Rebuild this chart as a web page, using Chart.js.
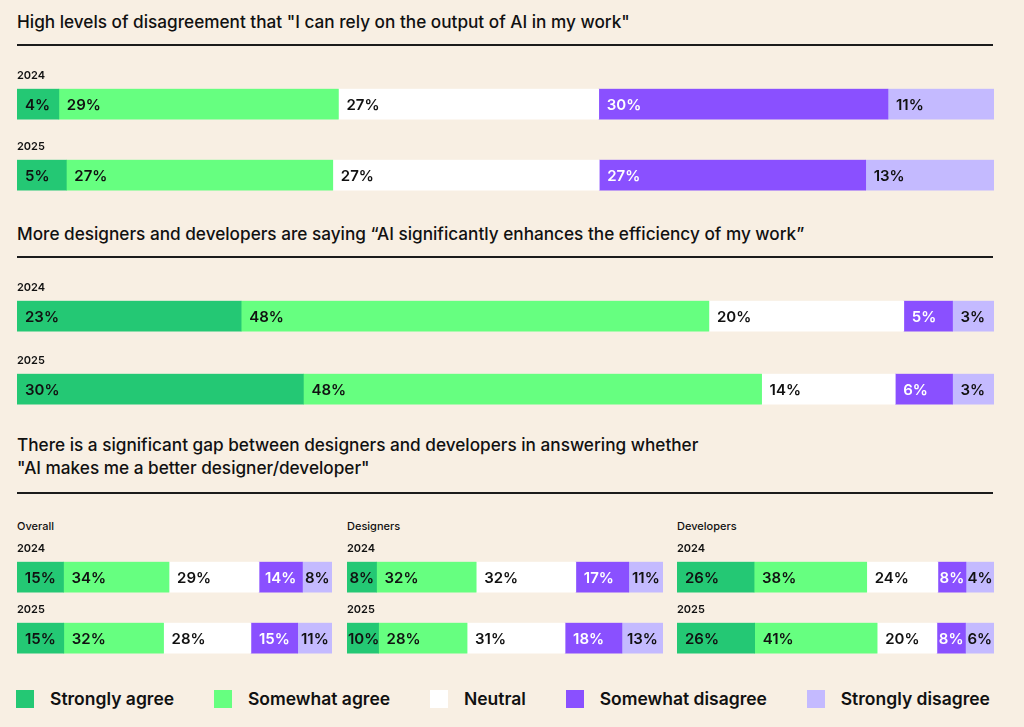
<!DOCTYPE html>
<html>
<head>
<meta charset="utf-8">
<script src="https://cdn.jsdelivr.net/npm/chart.js"></script>
<style>
  body { margin: 0; background: #f8efe3; font-family: Inter, "Noto Sans", sans-serif; color: #111; }
  #page { position: relative; width: 1024px; height: 727px; overflow: hidden; }
  .title { position: absolute; left: 17px; font-size: 17.2px; font-weight: 500; line-height: 23px; white-space: nowrap; }
  .rule { position: absolute; left: 17px; width: 976px; height: 2px; background: #1b1b1b; }
  .group { position: absolute; font-size: 11px; font-weight: 500; line-height: 14px; }
  canvas { position: absolute; }
  #legend { position: absolute; left: 16px; width: 974px; top: 690px; display: flex; justify-content: space-between; }
  #legend .item { display: flex; align-items: center; font-size: 17.5px; font-weight: 600; line-height: 18px; }
  #legend .sw { width: 18px; height: 18px; margin-right: 16px; }
</style>
</head>
<body>
<div id="page">
  <div class="title" style="top:10px">High levels of disagreement that "I can rely on the output of AI in my work"</div>
  <div class="rule" style="top:44px"></div>
  <div class="title" style="top:222px">More designers and developers are saying “AI significantly enhances the efficiency of my work”</div>
  <div class="rule" style="top:256px"></div>
  <div class="title" style="top:433px">There is a significant gap between designers and developers in answering whether<br>"AI makes me a better designer/developer"</div>
  <div class="rule" style="top:492px"></div>
  <div class="group" style="left:17px;top:519px">Overall</div>
  <div class="group" style="left:347px;top:519px">Designers</div>
  <div class="group" style="left:677px;top:519px">Developers</div>
  <div id="legend"></div>
</div>
<script>
var categories = ['Strongly agree', 'Somewhat agree', 'Neutral', 'Somewhat disagree', 'Strongly disagree'];
var colors = ['#24c874', '#66ff80', '#ffffff', '#8a50ff', '#c4baff'];
var labelColors = ['#111', '#111', '#111', '#fff', '#111'];

// "I can rely on the output of AI in my work"
var relyOutput2024 = [4, 29, 27, 30, 11];
var relyOutput2025 = [5, 27, 27, 27, 13];
// "AI significantly enhances the efficiency of my work"
var efficiency2024 = [23, 48, 20, 5, 3];
var efficiency2025 = [30, 48, 14, 6, 3];
// "AI makes me a better designer/developer"
var betterOverall2024 = [15, 34, 29, 14, 8];
var betterOverall2025 = [15, 32, 28, 15, 11];
var betterDesigners2024 = [8, 32, 32, 17, 11];
var betterDesigners2025 = [10, 28, 31, 18, 13];
var betterDevelopers2024 = [26, 38, 24, 8, 4];
var betterDevelopers2025 = [26, 41, 20, 8, 6];

var rows = [
  { year: '2024', values: relyOutput2024, left: 17, top: 69, width: 977 },
  { year: '2025', values: relyOutput2025, left: 17, top: 140, width: 977 },
  { year: '2024', values: efficiency2024, left: 17, top: 281, width: 977 },
  { year: '2025', values: efficiency2025, left: 17, top: 354, width: 977 },
  { year: '2024', values: betterOverall2024, left: 17, top: 542, width: 315 },
  { year: '2025', values: betterOverall2025, left: 17, top: 603, width: 315 },
  { year: '2024', values: betterDesigners2024, left: 347, top: 542, width: 316 },
  { year: '2025', values: betterDesigners2025, left: 347, top: 603, width: 316 },
  { year: '2024', values: betterDevelopers2024, left: 677, top: 542, width: 317 },
  { year: '2025', values: betterDevelopers2025, left: 677, top: 603, width: 317 }
];

// percent labels inside each segment (text comes from the real values)
var segmentLabels = {
  id: 'segmentLabels',
  afterDatasetsDraw: function(chart) {
    var ctx = chart.ctx;
    ctx.save();
    ctx.font = '600 15px Inter';
    ctx.textBaseline = 'middle';
    chart.data.datasets.forEach(function(ds, i) {
      var bar = chart.getDatasetMeta(i).data[0];
      var left = Math.min(bar.base, bar.x);
      var w = Math.abs(bar.x - bar.base);
      var txt = ds.pct + '%';
      var tw = ctx.measureText(txt).width;
      var pad = Math.max(1, Math.min(8, (w - tw) / 2));
      ctx.fillStyle = labelColors[i];
      ctx.fillText(txt, left + pad, bar.y + 1);
    });
    ctx.restore();
  }
};

var page = document.getElementById('page');

rows.forEach(function(row) {
  var canvas = document.createElement('canvas');
  canvas.width = row.width;
  canvas.height = 51;
  canvas.style.left = row.left + 'px';
  canvas.style.top = row.top + 'px';
  page.appendChild(canvas);

  var total = row.values.reduce(function(a, b) { return a + b; }, 0);
  // small segments keep a minimum length so their label fits
  var minPx = row.width > 500 ? 42 : 30;
  var minVal = minPx / row.width * total;
  var shown = row.values.map(function(v) { return Math.max(v, minVal); });
  var shownTotal = shown.reduce(function(a, b) { return a + b; }, 0);

  new Chart(canvas.getContext('2d'), {
    type: 'bar',
    data: {
      labels: [row.year],
      datasets: categories.map(function(cat, i) {
        return {
          label: cat,
          pct: row.values[i],
          data: [shown[i]],
          backgroundColor: colors[i],
          borderWidth: 0,
          barThickness: 30
        };
      })
    },
    options: {
      indexAxis: 'y',
      responsive: false,
      animation: false,
      layout: { padding: 0 },
      scales: {
        x: { stacked: true, display: false, min: 0, max: shownTotal },
        y: { stacked: true, display: false }
      },
      plugins: {
        legend: { display: false },
        tooltip: { enabled: false },
        title: {
          display: true,
          text: row.year,
          align: 'start',
          color: '#111',
          font: { family: 'Inter', size: 11, weight: '600' },
          padding: { top: 0, bottom: 6 }
        }
      }
    },
    plugins: [segmentLabels]
  });
});

var legend = document.getElementById('legend');
categories.forEach(function(cat, i) {
  var item = document.createElement('div');
  item.className = 'item';
  item.innerHTML = '<span class="sw" style="background:' + colors[i] + '"></span>' + cat;
  legend.appendChild(item);
});
</script>
</body>
</html>
